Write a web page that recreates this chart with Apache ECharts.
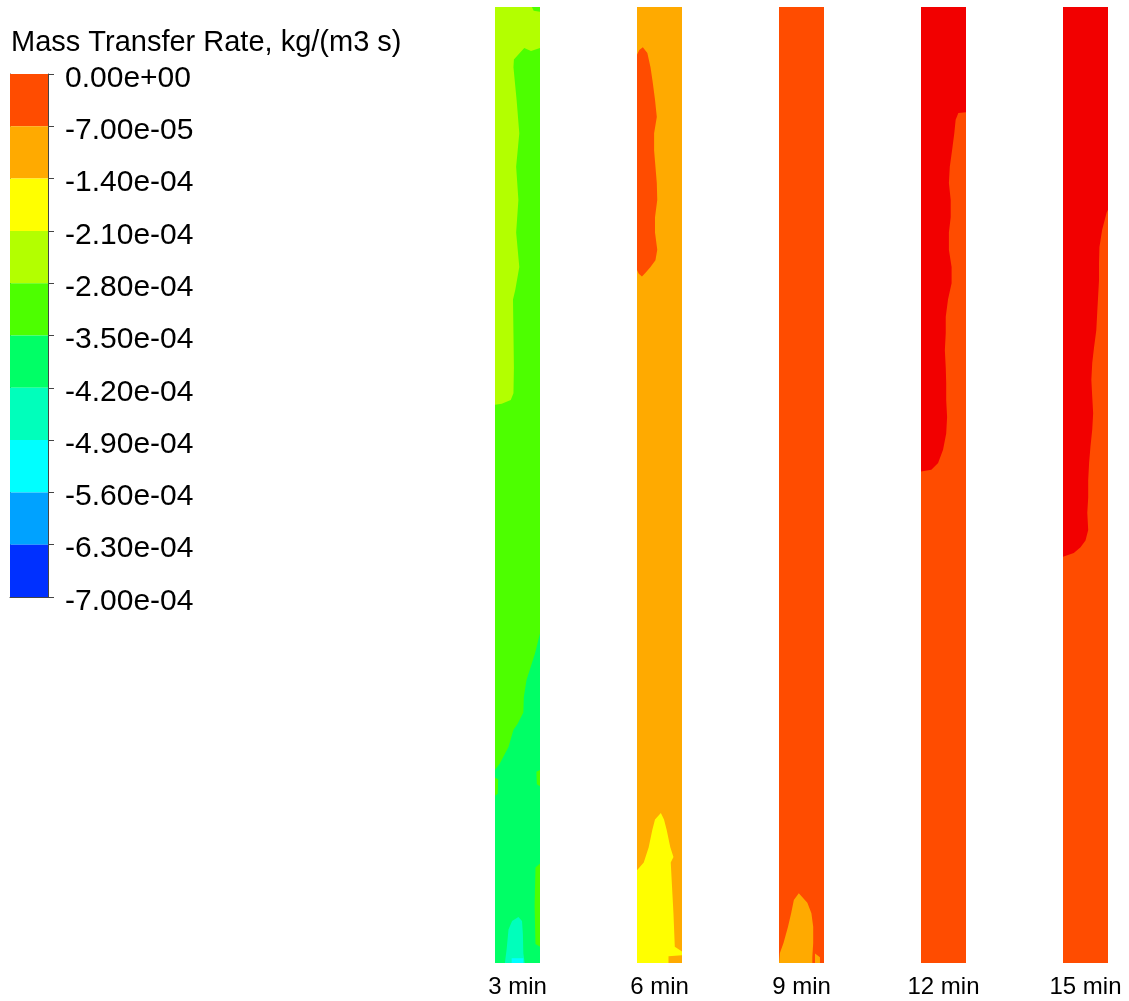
<!DOCTYPE html>
<html>
<head>
<meta charset="utf-8">
<script src="https://cdn.jsdelivr.net/npm/echarts@6/dist/echarts.min.js"></script>
<style>
html,body{margin:0;padding:0;background:#fff;}
#chart{width:1129px;height:1001px;}
</style>
</head>
<body>
<div id="chart"></div>
<script>
// ---------------- DATA ----------------
const legendTitle = 'Mass Transfer Rate, kg/(m3 s)';
// contour levels in units of 1e-5 kg/(m3 s)
const levels = [0, -7, -14, -21, -28, -35, -42, -49, -56, -63, -70];
const tickLabels = ['0.00e+00','-7.00e-05','-1.40e-04','-2.10e-04','-2.80e-04','-3.50e-04',
                    '-4.20e-04','-4.90e-04','-5.60e-04','-6.30e-04','-7.00e-04'];
// band k spans [levels[k+1], levels[k]]; band -1 = above 0 (out of legend range)
const bandColors = ['#ff4c00','#ffaa00','#ffff00','#b3ff00','#4dff00','#00ff66',
                    '#00ffbb','#00ffff','#00a2ff','#0030ff'];
const aboveColor = '#f20000';

const colLabels = ['3 min', '6 min', '9 min', '12 min', '15 min'];
// background band of each column
const baseBand = [4, 1, 0, 0, 0];

// contour regions per column: band index + outline as [width fraction, depth % from top]
const col3min = [
  {band: 3, pts: [[0,0],[1,0],[1,4.3],[0.8,4.6],[0.65,4.3],[0.55,4.8],[0.42,5.5],[0.41,6.3],[0.48,9.7],
    [0.54,13.2],[0.47,16.7],[0.52,20.2],[0.47,23.6],[0.54,27.2],[0.45,29.6],[0.40,30.6],[0.41,34.1],
    [0.42,37.7],[0.41,40.4],[0.35,41.1],[0.15,41.5],[0,41.6]]},
  {band: 4, pts: [[0.82,0],[1,0],[1,0.5],[0.86,0.4]]},
  {band: 5, pts: [[1,65.5],[0.89,67.6],[0.7,70.4],[0.64,72.2],[0.63,73.8],[0.5,75.0],[0.41,75.6],
    [0.30,77.4],[0.11,79.1],[0,79.8],[0,100],[1,100]]},
  {band: 4, pts: [[0.9,90.0],[1,89.6],[1,98.3],[0.9,98.0],[0.88,94.0]]},
  {band: 4, pts: [[0.92,80.0],[1,79.8],[1,81.5],[0.93,81.3]]},
  {band: 4, pts: [[0,80.6],[0.07,80.8],[0.06,82.3],[0,82.5]]},
  {band: 6, pts: [[0.52,95.2],[0.6,95.6],[0.62,97.0],[0.63,99.0],[0.66,100],[0.22,100],[0.26,98.5],
    [0.30,96.5],[0.38,95.6]]},
  {band: 7, pts: [[0.37,99.5],[0.63,99.5],[0.63,100],[0.37,100]]}
];
const col6min = [
  {band: 0, pts: [[0.13,4.2],[0.23,4.8],[0.30,6.3],[0.35,7.9],[0.40,9.7],[0.44,11.5],[0.38,13.2],
    [0.38,15.0],[0.41,16.7],[0.44,18.4],[0.45,20.2],[0.40,22.0],[0.40,23.6],[0.45,25.4],[0.41,26.5],
    [0.30,27.2],[0.19,27.8],[0.11,28.2],[0.04,27.9],[0,27.5],[0,5.0],[0.05,4.5]]},
  {band: 2, pts: [[0.53,84.3],[0.6,85.0],[0.66,86.1],[0.74,87.9],[0.81,88.9],[0.75,89.5],[0.77,91.3],
    [0.81,94.8],[0.84,98.3],[1.0,98.8],[1,100],[0,100],[0,90.3],[0.15,89.5],[0.26,87.9],
    [0.34,86.1],[0.40,85.0]]},
  {band: 1, pts: [[0.7,99.3],[1,99.2],[1,100],[0.7,100]]}
];
const col9min = [
  {band: 1, pts: [[0.44,92.7],[0.63,93.7],[0.72,94.8],[0.76,96.2],[0.76,97.9],[0.74,99.4],[0.74,100],
    [0,100],[0.02,98.95],[0.10,97.9],[0.20,96.2],[0.27,94.8],[0.33,93.4]]},
  {band: 1, pts: [[0.8,99.0],[0.91,99.4],[0.91,100],[0.8,100]]}
];
const col12min = [
  {band: -1, pts: [[0,0],[1,0],[1,11.0],[0.83,11.1],[0.77,11.8],[0.74,13.2],[0.69,15.0],[0.64,16.7],
    [0.62,18.4],[0.66,20.2],[0.66,22.0],[0.62,23.6],[0.62,25.4],[0.68,27.2],[0.68,28.9],[0.60,30.6],
    [0.55,32.4],[0.55,34.1],[0.53,35.9],[0.55,37.7],[0.56,39.3],[0.56,41.1],[0.58,42.9],[0.56,44.6],
    [0.49,46.3],[0.38,47.7],[0.23,48.4],[0,48.6]]}
];
const col15min = [
  {band: -1, pts: [[0,0],[1,0],[1,21.2],[0.97,21.5],[0.87,23.3],[0.81,25.1],[0.80,26.8],[0.80,28.6],
    [0.76,32.0],[0.74,33.8],[0.69,35.6],[0.65,37.2],[0.63,39.0],[0.65,40.8],[0.67,42.5],[0.65,44.2],
    [0.61,46.0],[0.58,47.7],[0.56,49.5],[0.56,51.3],[0.54,52.9],[0.56,54.7],[0.50,55.8],[0.39,56.5],
    [0.24,57.1],[0,57.5]]}
];
const columnRegions = [col3min, col6min, col9min, col12min, col15min];

// ---------------- CHART ----------------
const FONT = 'Liberation Sans, Arial, sans-serif';
function bandColor(b){ return b < 0 ? aboveColor : bandColors[b]; }

const chart = echarts.init(document.getElementById('chart'), null, {renderer: 'canvas'});

const grids = [], xAxes = [], yAxes = [], series = [];

// legend colour bar (grid 0)
grids.push({left: 10, top: 74, width: 38, height: 523, outerBoundsMode: 'none', containLabel: false});
xAxes.push({gridIndex: 0, type: 'value', min: 0, max: 1, position: 'bottom',
  axisLine: {show: true, onZero: false, lineStyle: {color: '#444', width: 1}}, axisTick: {show: false},
  axisLabel: {show: false}, splitLine: {show: false}});
yAxes.push({gridIndex: 0, type: 'value', min: -70, max: 0, interval: 7, position: 'right',
  axisLine: {show: true, onZero: false, lineStyle: {color: '#444', width: 1}},
  axisTick: {show: true, length: 6, lineStyle: {color: '#444'}},
  axisLabel: {show: true, margin: 17, color: '#000', fontSize: 30, fontFamily: FONT,
    rich: {t: {color: '#000', fontSize: 30, fontFamily: FONT, padding: [9, 0, 0, 0]}},
    formatter: function(v){ const i = levels.indexOf(Math.round(v)); return i >= 0 ? '{t|' + tickLabels[i] + '}' : ''; }},
  splitLine: {show: false}});
yAxes.push({gridIndex: 0, type: 'value', min: -70, max: 0, position: 'left',
  axisLine: {show: true, onZero: false, lineStyle: {color: '#444', width: 1}},
  axisTick: {show: false}, axisLabel: {show: false}, splitLine: {show: false}});

const bandData = bandColors.map((c, k) => [k, levels[k + 1], levels[k]]);
series.push({
  type: 'custom', xAxisIndex: 0, yAxisIndex: 0, silent: true, z: 1,
  data: bandData,
  renderItem: function(params, api){
    const lo = api.value(1), hi = api.value(2);
    const p1 = api.coord([0, hi]), p2 = api.coord([1, lo]);
    return {type: 'rect', shape: {x: p1[0], y: p1[1], width: p2[0] - p1[0], height: p2[1] - p1[1]},
      style: {fill: bandColors[api.value(0)]}};
  }
});

// contour columns
const colLeft = [495, 637, 779, 921, 1063];
columnRegions.forEach(function(regs, i){
  const g = i + 1;
  grids.push({left: colLeft[i], top: 7, width: 45, height: 956, outerBoundsMode: 'none', containLabel: false});
  xAxes.push({gridIndex: g, type: 'value', min: 0, max: 1,
    name: colLabels[i], nameLocation: 'middle', nameGap: 12,
    nameTextStyle: {color: '#000', fontSize: 24, fontFamily: FONT, verticalAlign: 'top'},
    axisLine: {show: false}, axisTick: {show: false}, axisLabel: {show: false}, splitLine: {show: false}});
  yAxes.push({gridIndex: g, type: 'value', min: 0, max: 100, inverse: true,
    axisLine: {show: false}, axisTick: {show: false}, axisLabel: {show: false}, splitLine: {show: false}});
  const all = [{band: baseBand[i], pts: [[0,0],[1,0],[1,100],[0,100]]}].concat(regs);
  series.push({
    type: 'custom', xAxisIndex: g, yAxisIndex: g + 1, silent: true,
    data: all.map(r => [r.band]),
    renderItem: function(params, api){
      const r = all[params.dataIndex];
      const pts = r.pts.map(p => api.coord(p));
      return {type: 'polygon', shape: {points: pts}, style: {fill: bandColor(r.band), stroke: null}};
    }
  });
});

chart.setOption({
  animation: false,
  backgroundColor: '#fff',
  title: {text: legendTitle, left: 11, top: 28, padding: 0,
    textStyle: {color: '#000', fontSize: 29, fontWeight: 'normal', fontFamily: FONT, lineHeight: 30}},
  grid: grids, xAxis: xAxes, yAxis: yAxes, series: series
});
</script>
</body>
</html>
